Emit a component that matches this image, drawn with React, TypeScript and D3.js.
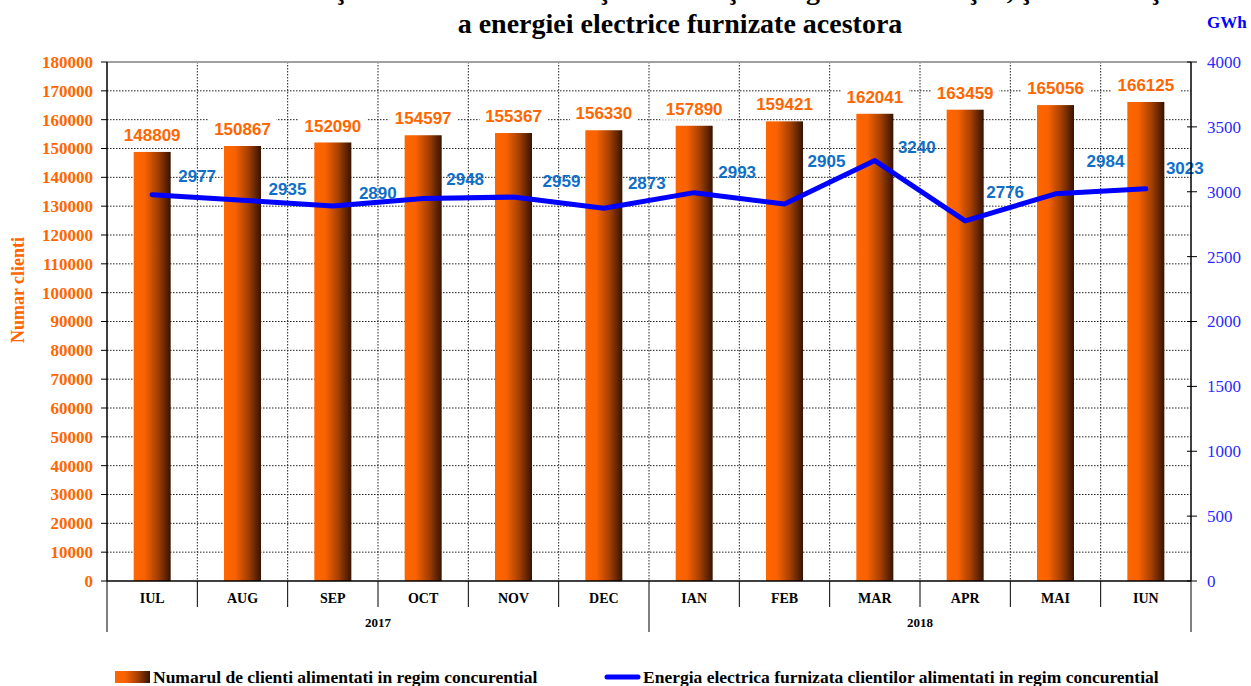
import { useEffect, useRef } from 'react';
import * as d3 from 'd3';

const months = ['IUL', 'AUG', 'SEP', 'OCT', 'NOV', 'DEC', 'IAN', 'FEB', 'MAR', 'APR', 'MAI', 'IUN'];
const years = [
  { label: '2017', from: 0, to: 6 },
  { label: '2018', from: 6, to: 12 },
];
const clients = [148809, 150867, 152090, 154597, 155367, 156330, 157890, 159421, 162041, 163459, 165056, 166125];
const energy = [2977, 2935, 2890, 2948, 2959, 2873, 2993, 2905, 3240, 2776, 2984, 3023];
// hand placed energy labels (offset from the point, px)
const energyLabelDx = [45, 45, 45, 42, 48, 43, 43, 42, 42, 40, 50, 39];
const energyLabelDy = [-19, -11, -13, -20, -16, -25, -21, -43, -14, -29, -33, -21];
const leftTicks = d3.range(0, 180001, 10000);
const rightTicks = d3.range(0, 4001, 500);

const W = 1251;
const H = 686;
const serif = '"Liberation Serif", "Times New Roman", serif';
const sans = '"Liberation Sans", Arial, sans-serif';
const ORANGE = '#ff6600';

export default function App() {
  const svgRef = useRef<SVGSVGElement>(null);

  useEffect(() => {
    if (!svgRef.current) return;
    const margin = { top: 62, right: 60, bottom: 105, left: 107 };
    const innerW = W - margin.left - margin.right;
    const innerH = H - margin.top - margin.bottom;

    const svg = d3.select(svgRef.current);
    svg.selectAll('*').remove();

    const defs = svg.append('defs');
    const grad = defs.append('linearGradient').attr('id', 'barGrad').attr('x1', '0').attr('x2', '1').attr('y1', '0').attr('y2', '0');
    grad.append('stop').attr('offset', '0%').attr('stop-color', '#ff6600');
    grad.append('stop').attr('offset', '30%').attr('stop-color', '#f86200');
    grad.append('stop').attr('offset', '65%').attr('stop-color', '#a54000');
    grad.append('stop').attr('offset', '100%').attr('stop-color', '#361300');

    // titles (first line is clipped at the top edge, as in the source image)
    svg.append('text')
      .attr('x', 720).attr('y', -1)
      .attr('text-anchor', 'middle')
      .style('font', `bold 28px ${serif}`)
      .text('Evoluţia numărului de clienţi alimentaţi în regim concurenţial, şi a cantităţii');
    svg.append('text')
      .attr('x', 680).attr('y', 33)
      .attr('text-anchor', 'middle')
      .style('font', `bold 28px ${serif}`)
      .text('a energiei electrice furnizate acestora');
    svg.append('text')
      .attr('x', 1207).attr('y', 28)
      .style('font', `bold 17px ${serif}`)
      .attr('fill', '#0000ff')
      .text('GWh');

    const g = svg.append('g').attr('transform', `translate(${margin.left},${margin.top})`);

    const x = d3.scaleBand().domain(months).range([0, innerW]).paddingInner(0).paddingOuter(0);
    const y = d3.scaleLinear().domain([0, 180000]).range([innerH, 0]);
    const y2 = d3.scaleLinear().domain([0, 4000]).range([innerH, 0]);
    const step = x.step();

    // horizontal grid
    g.selectAll('.hgrid')
      .data(leftTicks.filter(t => t > 0 && t < 180000))
      .join('line')
      .attr('x1', 0).attr('x2', innerW)
      .attr('y1', d => y(d)).attr('y2', d => y(d))
      .attr('stroke', '#222')
      .attr('stroke-dasharray', '1.5,1.5');
    // vertical grid
    g.selectAll('.vgrid')
      .data(d3.range(1, months.length))
      .join('line')
      .attr('x1', d => d * step).attr('x2', d => d * step)
      .attr('y1', 0).attr('y2', innerH)
      .attr('stroke', '#222')
      .attr('stroke-dasharray', '1.5,1.5');
    // top border
    g.append('line').attr('x1', 0).attr('x2', innerW).attr('y1', 0).attr('y2', 0)
      .attr('stroke', '#a0a0a0').attr('stroke-width', 2);

    // bars
    const barW = 37;
    g.selectAll('.bar')
      .data(clients)
      .join('rect')
      .attr('x', (_, i) => (x(months[i]) ?? 0) + step / 2 - barW / 2)
      .attr('y', d => y(d))
      .attr('width', barW)
      .attr('height', d => innerH - y(d))
      .attr('fill', 'url(#barGrad)');

    // bar labels with white background
    const bl = g.selectAll('.blab')
      .data(clients)
      .join('g')
      .attr('transform', (d, i) => `translate(${(x(months[i]) ?? 0) + step / 2},${y(d) - 17})`);
    bl.append('rect')
      .attr('x', -34).attr('y', -11).attr('width', 68).attr('height', 22)
      .attr('fill', '#fff');
    bl.append('text')
      .attr('text-anchor', 'middle')
      .attr('dy', '0.36em')
      .style('font', `bold 17px ${sans}`)
      .attr('fill', ORANGE)
      .text(d => String(d));

    // energy line
    const line = d3.line<number>()
      .x((_, i) => (x(months[i]) ?? 0) + step / 2)
      .y(d => y2(d));
    g.append('path')
      .datum(energy)
      .attr('d', line)
      .attr('fill', 'none')
      .attr('stroke', '#0000ff')
      .attr('stroke-width', 5)
      .attr('stroke-linejoin', 'round')
      .attr('stroke-linecap', 'round');

    g.selectAll('.elab')
      .data(energy)
      .join('text')
      .attr('x', (_, i) => (x(months[i]) ?? 0) + step / 2 + energyLabelDx[i])
      .attr('y', (d, i) => y2(d) + energyLabelDy[i])
      .attr('text-anchor', 'middle')
      .attr('dy', '0.36em')
      .style('font', `bold 17px ${sans}`)
      .attr('fill', '#0f6fc8')
      .text(d => String(d));

    // left axis
    g.append('line').attr('x1', 0).attr('x2', 0).attr('y1', 0).attr('y2', innerH)
      .attr('stroke', '#000').attr('stroke-width', 1.5);
    g.selectAll('.ltick')
      .data(leftTicks)
      .join('line')
      .attr('x1', -6).attr('x2', 0)
      .attr('y1', d => y(d)).attr('y2', d => y(d))
      .attr('stroke', '#000');
    g.selectAll('.llab')
      .data(leftTicks)
      .join('text')
      .attr('x', -14)
      .attr('y', d => y(d))
      .attr('dy', '0.35em')
      .attr('text-anchor', 'end')
      .style('font', `bold 17px ${serif}`)
      .attr('fill', ORANGE)
      .text(d => String(d));

    // right axis
    g.append('line').attr('x1', innerW).attr('x2', innerW).attr('y1', 0).attr('y2', innerH)
      .attr('stroke', '#000').attr('stroke-width', 1.5);
    g.selectAll('.rtick')
      .data(rightTicks)
      .join('line')
      .attr('x1', innerW - 4).attr('x2', innerW + 6)
      .attr('y1', d => y2(d)).attr('y2', d => y2(d))
      .attr('stroke', '#000');
    g.selectAll('.rlab')
      .data(rightTicks)
      .join('text')
      .attr('x', innerW + 16)
      .attr('y', d => y2(d))
      .attr('dy', '0.35em')
      .style('font', `17px ${serif}`)
      .attr('fill', '#2a2aff')
      .text(d => String(d));

    // bottom axis
    g.append('line').attr('x1', 0).attr('x2', innerW).attr('y1', innerH).attr('y2', innerH)
      .attr('stroke', '#000').attr('stroke-width', 1.5);
    const groupEdges = new Set(years.flatMap(yr => [yr.from, yr.to]));
    g.selectAll('.xsep')
      .data(d3.range(0, months.length + 1))
      .join('line')
      .attr('x1', d => d * step).attr('x2', d => d * step)
      .attr('y1', innerH)
      .attr('y2', d => innerH + (groupEdges.has(d) ? 51 : 26))
      .attr('stroke', '#000');
    g.selectAll('.xlab')
      .data(months)
      .join('text')
      .attr('x', d => (x(d) ?? 0) + step / 2)
      .attr('y', innerH + 22)
      .attr('text-anchor', 'middle')
      .style('font', `bold 14px ${serif}`)
      .text(d => d);
    g.selectAll('.ylab')
      .data(years)
      .join('text')
      .attr('x', d => ((d.from + d.to) / 2) * step)
      .attr('y', innerH + 46)
      .attr('text-anchor', 'middle')
      .style('font', `bold 13px ${serif}`)
      .text(d => d.label);

    // left axis title
    svg.append('text')
      .attr('transform', 'translate(24,290) rotate(-90)')
      .attr('text-anchor', 'middle')
      .style('font', `bold 18px ${serif}`)
      .attr('fill', ORANGE)
      .text('Numar clienti');

    // legend
    svg.append('rect').attr('x', 115).attr('y', 671).attr('width', 35).attr('height', 12)
      .attr('fill', 'url(#barGrad)');
    svg.append('text').attr('x', 153).attr('y', 683)
      .style('font', `bold 17.5px ${serif}`)
      .text('Numarul de clienti alimentati in regim concurential');
    svg.append('line').attr('x1', 607).attr('x2', 638).attr('y1', 677).attr('y2', 677)
      .attr('stroke', '#0000ff').attr('stroke-width', 5).attr('stroke-linecap', 'round');
    svg.append('text').attr('x', 643).attr('y', 683)
      .style('font', `bold 17.5px ${serif}`)
      .text('Energia electrica furnizata clientilor alimentati in regim concurential');
  }, []);

  return (
    <div style={{ position: 'absolute', left: 0, top: 0 }}>
      <svg ref={svgRef} width={W} height={H} style={{ display: 'block', background: '#fff' }} />
    </div>
  );
}
